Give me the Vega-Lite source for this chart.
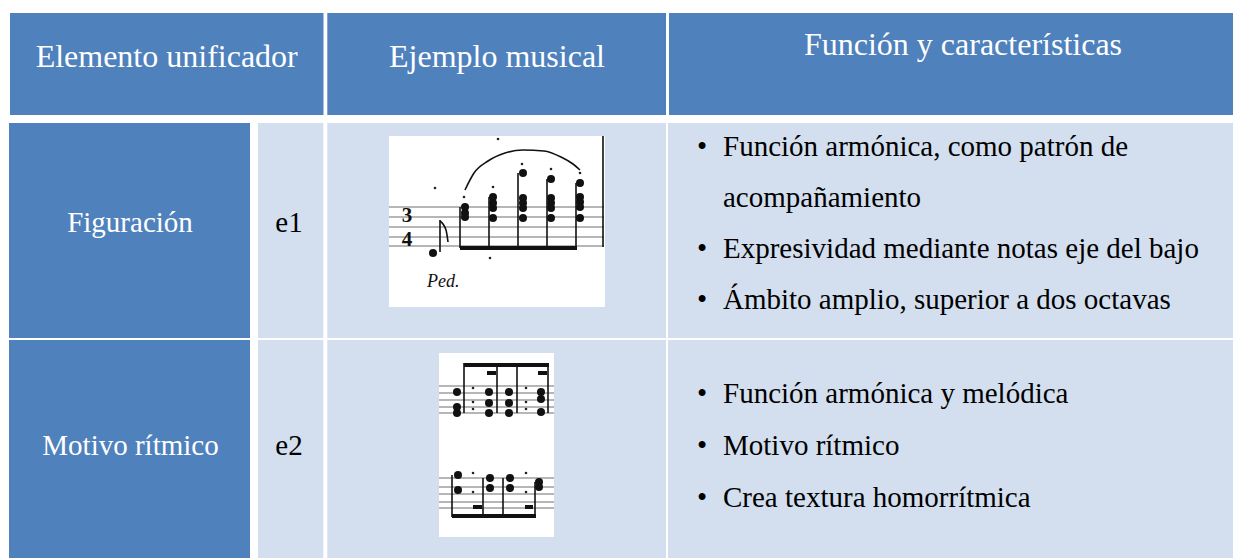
{
  "$schema": "https://vega.github.io/schema/vega-lite/v6.json",
  "width": 1233,
  "height": 558,
  "padding": 0,
  "autosize": {"type": "fit", "contains": "padding"},
  "background": "#FFFFFF",
  "config": {"view": {"stroke": null}},
  "datasets": {
    "cells": [
      {"x": 10, "x2": 323.5, "y": 13, "y2": 115, "k": "dark"},
      {"x": 327.3, "x2": 666, "y": 13, "y2": 115, "k": "dark"},
      {"x": 669, "x2": 1233, "y": 13, "y2": 115, "k": "dark"},
      {"x": 9, "x2": 250, "y": 123, "y2": 338, "k": "dark"},
      {"x": 258, "x2": 323.3, "y": 123, "y2": 338, "k": "light"},
      {"x": 327.3, "x2": 666, "y": 123, "y2": 338, "k": "light"},
      {"x": 668, "x2": 1233, "y": 123, "y2": 338, "k": "light"},
      {"x": 9, "x2": 250, "y": 340, "y2": 558, "k": "dark"},
      {"x": 258, "x2": 323.3, "y": 340, "y2": 558, "k": "light"},
      {"x": 327.3, "x2": 666, "y": 340, "y2": 558, "k": "light"},
      {"x": 668, "x2": 1233, "y": 340, "y2": 558, "k": "light"},
      {"x": 389, "x2": 605, "y": 136, "y2": 307, "k": "white"},
      {"x": 439, "x2": 554, "y": 353, "y2": 537, "k": "white"}
    ],
    "heads": [
      {"x": 166.7, "y": 67, "t": "Elemento unificador"},
      {"x": 497, "y": 67, "t": "Ejemplo musical"},
      {"x": 963, "y": 55, "t": "Función y características"}
    ],
    "labels": [
      {"x": 130, "y": 232, "t": "Figuración"},
      {"x": 130.5, "y": 455, "t": "Motivo rítmico"}
    ],
    "codes": [
      {"x": 289, "y": 232, "t": "e1"},
      {"x": 289, "y": 455, "t": "e2"}
    ],
    "bullets": [
      {"x": 702, "y": 156}, {"x": 702, "y": 258}, {"x": 702, "y": 309},
      {"x": 702, "y": 403}, {"x": 702, "y": 455}, {"x": 702, "y": 507}
    ],
    "body": [
      {"x": 723, "y": 156, "t": "Función armónica, como patrón de"},
      {"x": 723, "y": 207, "t": "acompañamiento"},
      {"x": 723, "y": 258, "t": "Expresividad mediante notas eje del bajo"},
      {"x": 723, "y": 309, "t": "Ámbito amplio, superior a dos octavas"},
      {"x": 723, "y": 403, "t": "Función armónica y melódica"},
      {"x": 723, "y": 455, "t": "Motivo rítmico"},
      {"x": 723, "y": 507, "t": "Crea textura homorrítmica"}
    ],
    "staff": [
      {"x": 389, "x2": 604, "y": 207}, {"x": 389, "x2": 604, "y": 217},
      {"x": 389, "x2": 604, "y": 227}, {"x": 389, "x2": 604, "y": 237},
      {"x": 389, "x2": 604, "y": 246},
      {"x": 439, "x2": 554, "y": 386}, {"x": 439, "x2": 554, "y": 393},
      {"x": 439, "x2": 554, "y": 400}, {"x": 439, "x2": 554, "y": 407},
      {"x": 439, "x2": 554, "y": 413},
      {"x": 439, "x2": 554, "y": 478}, {"x": 439, "x2": 554, "y": 487},
      {"x": 439, "x2": 554, "y": 494}, {"x": 439, "x2": 554, "y": 502},
      {"x": 439, "x2": 554, "y": 508}
    ],
    "stems": [
      {"x": 603, "y": 136, "y2": 247},
      {"x": 440, "y": 220, "y2": 252},
      {"x": 460, "y": 207, "y2": 248},
      {"x": 489, "y": 197, "y2": 248},
      {"x": 518, "y": 173, "y2": 248},
      {"x": 547, "y": 179, "y2": 248},
      {"x": 576, "y": 183, "y2": 248},
      {"x": 464, "y": 363, "y2": 413},
      {"x": 497, "y": 363, "y2": 413},
      {"x": 517, "y": 363, "y2": 413},
      {"x": 548, "y": 363, "y2": 413},
      {"x": 452, "y": 475, "y2": 517},
      {"x": 483, "y": 478, "y2": 517},
      {"x": 503, "y": 478, "y2": 517},
      {"x": 535, "y": 482, "y2": 517}
    ],
    "beams": [
      {"x": 460, "x2": 577, "y": 248},
      {"x": 464, "x2": 549, "y": 365},
      {"x": 487, "x2": 496, "y": 373},
      {"x": 538, "x2": 547, "y": 373},
      {"x": 452, "x2": 536, "y": 516},
      {"x": 473, "x2": 482, "y": 507},
      {"x": 525, "x2": 533, "y": 507}
    ],
    "heads_notes": [
      {"x": 433, "y": 253},
      {"x": 465, "y": 207}, {"x": 465, "y": 213}, {"x": 465, "y": 217},
      {"x": 493, "y": 197}, {"x": 493, "y": 203}, {"x": 493, "y": 208}, {"x": 493, "y": 218},
      {"x": 523, "y": 173}, {"x": 523, "y": 198}, {"x": 523, "y": 203}, {"x": 523, "y": 208}, {"x": 523, "y": 218},
      {"x": 551, "y": 179}, {"x": 551, "y": 198}, {"x": 551, "y": 203}, {"x": 551, "y": 208}, {"x": 551, "y": 218},
      {"x": 580, "y": 183}, {"x": 580, "y": 197}, {"x": 580, "y": 202}, {"x": 580, "y": 207}, {"x": 580, "y": 218},
      {"x": 457, "y": 392}, {"x": 457, "y": 407}, {"x": 457, "y": 413},
      {"x": 489, "y": 392}, {"x": 489, "y": 403}, {"x": 489, "y": 413},
      {"x": 509, "y": 392}, {"x": 509, "y": 403}, {"x": 509, "y": 413},
      {"x": 541, "y": 392}, {"x": 541, "y": 399}, {"x": 541, "y": 412},
      {"x": 458, "y": 475}, {"x": 458, "y": 490},
      {"x": 490, "y": 478}, {"x": 490, "y": 488},
      {"x": 510, "y": 478}, {"x": 510, "y": 488},
      {"x": 539, "y": 482}, {"x": 539, "y": 487}
    ],
    "dots": [
      {"x": 464, "y": 197}, {"x": 493, "y": 187}, {"x": 522, "y": 164}, {"x": 551, "y": 169}, {"x": 580, "y": 173},
      {"x": 435, "y": 188}, {"x": 498, "y": 139}, {"x": 490, "y": 258},
      {"x": 473, "y": 388}, {"x": 473, "y": 402}, {"x": 473, "y": 409},
      {"x": 526, "y": 388}, {"x": 526, "y": 402}, {"x": 526, "y": 409},
      {"x": 473, "y": 473}, {"x": 473, "y": 492},
      {"x": 526, "y": 473}, {"x": 526, "y": 492}
    ],
    "slur": [
      {"i": 1, "x": 465, "y": 190}, {"i": 2, "x": 474, "y": 173}, {"i": 3, "x": 488, "y": 161},
      {"i": 4, "x": 505, "y": 153}, {"i": 5, "x": 523, "y": 150}, {"i": 6, "x": 544, "y": 151},
      {"i": 7, "x": 561, "y": 157}, {"i": 8, "x": 573, "y": 164}, {"i": 9, "x": 580, "y": 170}
    ],
    "flag": [
      {"i": 1, "x": 440, "y": 221}, {"i": 2, "x": 446, "y": 230}, {"i": 3, "x": 448, "y": 242}
    ],
    "timesig": [
      {"x": 407, "y": 222, "t": "3"},
      {"x": 407, "y": 246, "t": "4"}
    ],
    "ped": [
      {"x": 427, "y": 287, "t": "Ped."}
    ]
  },
  "layer": [
    {
      "data": {"name": "cells"},
      "mark": {"type": "rect"},
      "encoding": {
        "x": {"field": "x", "type": "quantitative", "scale": {"domain": [0, 1233], "nice": false, "zero": false}, "axis": null},
        "x2": {"field": "x2"},
        "y": {"field": "y", "type": "quantitative", "scale": {"domain": [0, 558], "nice": false, "zero": false, "reverse": true}, "axis": null},
        "y2": {"field": "y2"},
        "color": {"field": "k", "type": "nominal", "scale": {"domain": ["dark", "light", "white"], "range": ["#4F81BD", "#D3DFEE", "#FFFFFF"]}, "legend": null}
      }
    },
    {
      "data": {"name": "staff"},
      "mark": {"type": "rule", "color": "#6E6E6E", "strokeWidth": 1.2},
      "encoding": {
        "x": {"field": "x", "type": "quantitative", "scale": {"domain": [0, 1233], "nice": false, "zero": false}, "axis": null},
        "x2": {"field": "x2"},
        "y": {"field": "y", "type": "quantitative", "scale": {"domain": [0, 558], "nice": false, "zero": false, "reverse": true}, "axis": null}
      }
    },
    {
      "data": {"name": "stems"},
      "mark": {"type": "rule", "color": "#111111", "strokeWidth": 1.6},
      "encoding": {
        "x": {"field": "x", "type": "quantitative", "scale": {"domain": [0, 1233], "nice": false, "zero": false}, "axis": null},
        "y": {"field": "y", "type": "quantitative", "scale": {"domain": [0, 558], "nice": false, "zero": false, "reverse": true}, "axis": null},
        "y2": {"field": "y2"}
      }
    },
    {
      "data": {"name": "beams"},
      "mark": {"type": "rule", "color": "#111111", "strokeWidth": 4},
      "encoding": {
        "x": {"field": "x", "type": "quantitative", "scale": {"domain": [0, 1233], "nice": false, "zero": false}, "axis": null},
        "x2": {"field": "x2"},
        "y": {"field": "y", "type": "quantitative", "scale": {"domain": [0, 558], "nice": false, "zero": false, "reverse": true}, "axis": null}
      }
    },
    {
      "data": {"name": "heads_notes"},
      "mark": {"type": "point", "shape": "circle", "filled": true, "color": "#111111", "size": 65, "opacity": 1},
      "encoding": {
        "x": {"field": "x", "type": "quantitative", "scale": {"domain": [0, 1233], "nice": false, "zero": false}, "axis": null},
        "y": {"field": "y", "type": "quantitative", "scale": {"domain": [0, 558], "nice": false, "zero": false, "reverse": true}, "axis": null}
      }
    },
    {
      "data": {"name": "dots"},
      "mark": {"type": "point", "shape": "circle", "filled": true, "color": "#222222", "size": 7, "opacity": 1},
      "encoding": {
        "x": {"field": "x", "type": "quantitative", "scale": {"domain": [0, 1233], "nice": false, "zero": false}, "axis": null},
        "y": {"field": "y", "type": "quantitative", "scale": {"domain": [0, 558], "nice": false, "zero": false, "reverse": true}, "axis": null}
      }
    },
    {
      "data": {"name": "slur"},
      "mark": {"type": "line", "color": "#111111", "strokeWidth": 1.6, "interpolate": "monotone"},
      "encoding": {
        "x": {"field": "x", "type": "quantitative", "scale": {"domain": [0, 1233], "nice": false, "zero": false}, "axis": null},
        "y": {"field": "y", "type": "quantitative", "scale": {"domain": [0, 558], "nice": false, "zero": false, "reverse": true}, "axis": null},
        "order": {"field": "i", "type": "quantitative"}
      }
    },
    {
      "data": {"name": "flag"},
      "mark": {"type": "line", "color": "#111111", "strokeWidth": 1.6, "interpolate": "monotone"},
      "encoding": {
        "x": {"field": "x", "type": "quantitative", "scale": {"domain": [0, 1233], "nice": false, "zero": false}, "axis": null},
        "y": {"field": "y", "type": "quantitative", "scale": {"domain": [0, 558], "nice": false, "zero": false, "reverse": true}, "axis": null},
        "order": {"field": "i", "type": "quantitative"}
      }
    },
    {
      "data": {"name": "timesig"},
      "mark": {"type": "text", "font": "Liberation Serif", "fontSize": 21, "fontWeight": "bold", "color": "#111111", "align": "center", "baseline": "alphabetic"},
      "encoding": {
        "x": {"field": "x", "type": "quantitative", "scale": {"domain": [0, 1233], "nice": false, "zero": false}, "axis": null},
        "y": {"field": "y", "type": "quantitative", "scale": {"domain": [0, 558], "nice": false, "zero": false, "reverse": true}, "axis": null},
        "text": {"field": "t"}
      }
    },
    {
      "data": {"name": "ped"},
      "mark": {"type": "text", "font": "Liberation Serif", "fontSize": 18, "fontStyle": "italic", "color": "#111111", "align": "left", "baseline": "alphabetic"},
      "encoding": {
        "x": {"field": "x", "type": "quantitative", "scale": {"domain": [0, 1233], "nice": false, "zero": false}, "axis": null},
        "y": {"field": "y", "type": "quantitative", "scale": {"domain": [0, 558], "nice": false, "zero": false, "reverse": true}, "axis": null},
        "text": {"field": "t"}
      }
    },
    {
      "data": {"name": "heads"},
      "mark": {"type": "text", "font": "Liberation Serif", "fontSize": 32, "color": "#FFFFFF", "align": "center", "baseline": "alphabetic"},
      "encoding": {
        "x": {"field": "x", "type": "quantitative", "scale": {"domain": [0, 1233], "nice": false, "zero": false}, "axis": null},
        "y": {"field": "y", "type": "quantitative", "scale": {"domain": [0, 558], "nice": false, "zero": false, "reverse": true}, "axis": null},
        "text": {"field": "t"}
      }
    },
    {
      "data": {"name": "labels"},
      "mark": {"type": "text", "font": "Liberation Serif", "fontSize": 29, "color": "#FFFFFF", "align": "center", "baseline": "alphabetic"},
      "encoding": {
        "x": {"field": "x", "type": "quantitative", "scale": {"domain": [0, 1233], "nice": false, "zero": false}, "axis": null},
        "y": {"field": "y", "type": "quantitative", "scale": {"domain": [0, 558], "nice": false, "zero": false, "reverse": true}, "axis": null},
        "text": {"field": "t"}
      }
    },
    {
      "data": {"name": "codes"},
      "mark": {"type": "text", "font": "Liberation Serif", "fontSize": 29, "color": "#000000", "align": "center", "baseline": "alphabetic"},
      "encoding": {
        "x": {"field": "x", "type": "quantitative", "scale": {"domain": [0, 1233], "nice": false, "zero": false}, "axis": null},
        "y": {"field": "y", "type": "quantitative", "scale": {"domain": [0, 558], "nice": false, "zero": false, "reverse": true}, "axis": null},
        "text": {"field": "t"}
      }
    },
    {
      "data": {"name": "bullets"},
      "mark": {"type": "text", "font": "Liberation Serif", "fontSize": 29, "color": "#000000", "align": "center", "baseline": "alphabetic", "text": "•"},
      "encoding": {
        "x": {"field": "x", "type": "quantitative", "scale": {"domain": [0, 1233], "nice": false, "zero": false}, "axis": null},
        "y": {"field": "y", "type": "quantitative", "scale": {"domain": [0, 558], "nice": false, "zero": false, "reverse": true}, "axis": null}
      }
    },
    {
      "data": {"name": "body"},
      "mark": {"type": "text", "font": "Liberation Serif", "fontSize": 29, "color": "#000000", "align": "left", "baseline": "alphabetic"},
      "encoding": {
        "x": {"field": "x", "type": "quantitative", "scale": {"domain": [0, 1233], "nice": false, "zero": false}, "axis": null},
        "y": {"field": "y", "type": "quantitative", "scale": {"domain": [0, 558], "nice": false, "zero": false, "reverse": true}, "axis": null},
        "text": {"field": "t"}
      }
    }
  ]
}
